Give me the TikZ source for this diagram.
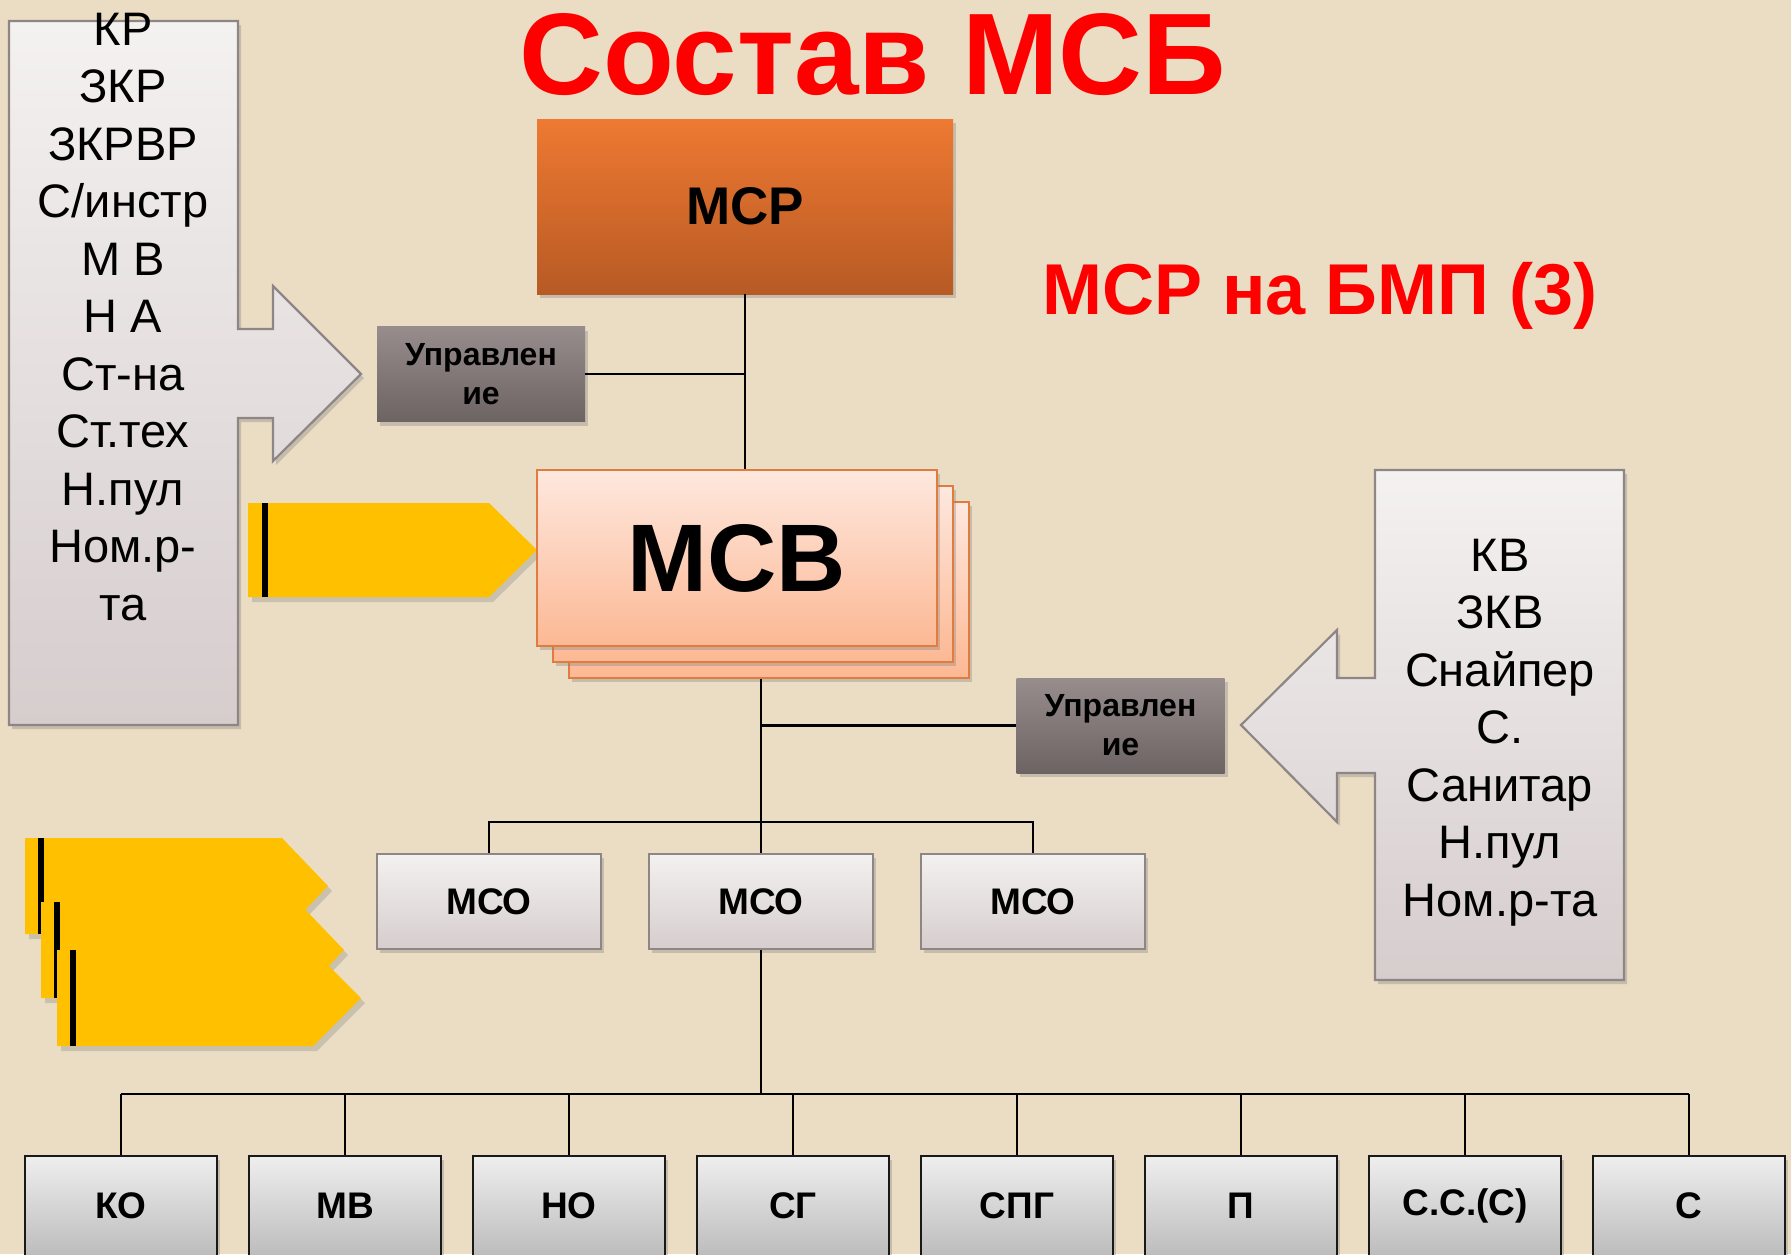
\documentclass[tikz,border=0pt]{standalone}
\usepackage{fontspec}
\setmainfont{Liberation Sans}
\usetikzlibrary{shadows,shadings}
\definecolor{bgc}{RGB}{234,221,195}
\definecolor{redt}{RGB}{255,0,0}
\definecolor{mcpT}{RGB}{238,121,50}
\definecolor{mcpB}{RGB}{183,90,36}
\definecolor{uprT}{RGB}{152,141,141}
\definecolor{uprB}{RGB}{108,99,99}
\definecolor{mcbT}{RGB}{254,232,222}
\definecolor{mcbB}{RGB}{252,184,148}
\definecolor{mcbL}{RGB}{226,124,62}
\definecolor{lgT}{RGB}{244,241,241}
\definecolor{lgB}{RGB}{214,205,205}
\definecolor{lgL}{RGB}{142,134,134}
\definecolor{btT}{RGB}{238,238,238}
\definecolor{btB}{RGB}{188,188,188}
\definecolor{btL}{RGB}{25,25,25}
\definecolor{ylw}{RGB}{255,192,0}
\newcommand\fsz[2]{\fontsize{#1}{#2}\selectfont}
\tikzset{
  shd/.style={drop shadow={opacity=0.35,shadow xshift=3pt,shadow yshift=-4pt}},
  conn/.style={draw=black,line width=2.2pt},
  mcpbox/.style={rectangle,inner sep=0pt,minimum width=416pt,minimum height=175pt,
     top color=mcpT,bottom color=mcpB,shd,font=\bfseries\fsz{53}{60}},
  uprbox/.style={rectangle,inner sep=0pt,minimum width=208pt,minimum height=95pt,
     top color=uprT,bottom color=uprB,shd,align=center,font=\bfseries\fsz{32}{39}},
  mcbbox/.style={rectangle,inner sep=0pt,minimum width=400pt,minimum height=176pt,
     top color=mcbT,bottom color=mcbB,draw=mcbL,line width=2.5pt,shd},
  msobox/.style={rectangle,inner sep=0pt,minimum width=224pt,minimum height=95pt,
     top color=lgT,bottom color=lgB,draw=lgL,line width=2.2pt,shd,font=\bfseries\fsz{37}{40}},
  botbox/.style={rectangle,inner sep=0pt,minimum width=192pt,minimum height=100pt,
     top color=btT,bottom color=btB,draw=btL,line width=2.5pt,shd,font=\bfseries\fsz{37}{40}},
  listbox/.style={top color=lgT,bottom color=lgB,draw=lgL,line width=2.2pt,shd},
  listtxt/.style={anchor=base,inner sep=0pt,font=\fsz{47}{50}},
  ytag/.style={fill=ylw,drop shadow={opacity=0.3,shadow xshift=4pt,shadow yshift=-5pt}},
  ybar/.style={fill=black},
}
\begin{document}
\begin{tikzpicture}[x=1pt,y=-1pt]
\fill[bgc] (0,0) rectangle (1791,1254);
\useasboundingbox (0,0) rectangle (1791,1254);

% titles
\node[anchor=base,inner sep=0pt,text=redt,font=\bfseries\fsz{116}{120}] (title) at (873,94) {Состав МСБ};
\node[anchor=base,inner sep=0pt,text=redt,font=\bfseries\fsz{72}{80}] (sub) at (1320,314) {МСР на БМП (3)};

% left list with arrow
\path[listbox] (9,21) -- (238,21) -- (238,329) -- (273,329) -- (273,286) -- (361,374)
  -- (273,461) -- (273,418) -- (238,418) -- (238,725) -- (9,725) -- cycle;
\foreach \t [count=\i] in {КР,ЗКР,ЗКРВР,С/инстр,М В,Н А,Ст-на,Ст.тех,Н.пул,Ном.р-,та}
  \node[listtxt] (lt\i) at (123,{45+57.5*(\i-1)}) {\t};

% right list with arrow
\path[listbox] (1375,470) -- (1624,470) -- (1624,980) -- (1375,980) -- (1375,773)
  -- (1337,773) -- (1337,822) -- (1241,725) -- (1337,630) -- (1337,678) -- (1375,678) -- cycle;
\foreach \t [count=\i] in {КВ,ЗКВ,Снайпер,С.,Санитар,Н.пул,Ном.р-та}
  \node[listtxt] (rt\i) at (1500,{571+57.5*(\i-1)}) {\t};

% top yellow tag
\path[ytag] (248,503) -- (489,503) -- (537,550) -- (489,597) -- (248,597) -- cycle;
\fill[ybar] (262,503) rectangle (268,597);

% stacked yellow tags
\path[ytag] (25,838) -- (282,838) -- (328,886) -- (282,934) -- (25,934) -- cycle;
\fill[ybar] (38,838) rectangle (44,934);
\path[ytag] (41,902) -- (298,902) -- (344,950) -- (298,998) -- (41,998) -- cycle;
\fill[ybar] (54,902) rectangle (60,998);
\path[ytag] (57,950) -- (313,950) -- (361,998) -- (313,1046) -- (57,1046) -- cycle;
\fill[ybar] (70,950) rectangle (76,1046);

% main nodes
\node[mcpbox] (mcp) at (745,206.5) {МСР};
\node[uprbox] (upr1) at (481,374) {Управлен\\ие};
\node[mcbbox] (mcb3) at (769,590) {};
\node[mcbbox] (mcb2) at (753,574) {};
\node[mcbbox,font=\bfseries\fsz{96}{100}] (mcb1) at (737,558) {МСВ};
\node[uprbox] (upr2) at (1120.5,725.5) {Управлен\\ие};

\node[msobox] (mso1) at (489,901.5) {МСО};
\node[msobox] (mso2) at (761,901.5) {МСО};
\node[msobox] (mso3) at (1033,901.5) {МСО};

\foreach \t [count=\i] in {КО,МВ,НО,СГ,СПГ,П,С.С.(С),С}
  \node[botbox] (b\i) at ({121+224*(\i-1)},1206) {\t};

% connectors
\coordinate (bus1) at (761,822);
\coordinate (bus2) at (761,1094);
\draw[conn] (mcp.south) -- (mcp.south |- mcb1.north);
\draw[conn] (upr1.east) -- (upr1.east -| mcp.south);
\draw[conn] (mcb3.south -| mso2.north) -- (mso2.north);
\draw[conn] (upr2.west -| mso2.north) -- (upr2.west);
\draw[conn] (mso1.north) |- (bus1) -| (mso3.north);
\draw[conn] (mso2.south) -- (bus2);
\draw[conn] (b1.north |- bus2) -- (b8.north |- bus2);
\foreach \i in {1,...,8}
  \draw[conn] (b\i.north |- bus2) -- (b\i.north);
\end{tikzpicture}
\end{document}
